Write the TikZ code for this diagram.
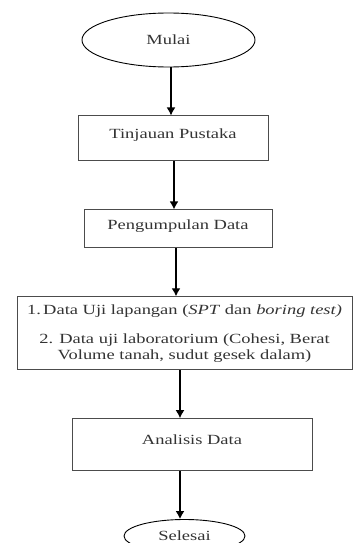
\documentclass[tikz,border=0pt]{standalone}
\usepackage{fontspec}
\setmainfont{Liberation Serif}[FakeStretch=1.32]
\usetikzlibrary{arrows.meta,positioning,shapes.geometric}

\begin{document}
\begin{tikzpicture}[node distance=48pt,>={Latex[length=8pt,width=9pt]},
  every node/.style={font=\fontsize{14pt}{16pt}\selectfont,text=black!80},
  frame/.style={draw=black!70,line width=0.9pt},
  stepbox/.style={frame,text depth=9pt},
  term/.style={draw,ellipse,line width=0.9pt,inner sep=0pt},
  flow/.style={->,line width=1.3pt}]
\useasboundingbox (0,0) rectangle (353pt,-543pt);
\node[term,minimum width=173pt,minimum height=54pt] (mulai) at (168.5pt,-40pt) {Mulai};
\node[stepbox,below=of mulai,xshift=4.5pt,minimum width=190pt,minimum height=45pt] (tinjauan) {Tinjauan Pustaka};
\node[stepbox,below=of tinjauan,xshift=5pt,minimum width=188pt,minimum height=38pt] (kumpul) {Pengumpulan Data};
\node[frame,below=of kumpul,xshift=6.5pt,minimum width=335pt,minimum height=73pt,align=center] (data)
  {1.\,Data Uji lapangan (\textit{SPT} dan \textit{boring test)}\\[13pt]
   2. Data uji laboratorium (Cohesi, Berat\\ Volume tanah, sudut gesek dalam)};
\node[stepbox,below=of data,xshift=7.5pt,minimum width=240pt,minimum height=52pt] (analisis) {Analisis Data};
\node[term,below=of analisis,xshift=-7.5pt,minimum width=121pt,minimum height=33pt] (selesai) {Selesai};
% connectors
\draw[flow] ([xshift=2.5pt]mulai.south) -- ([xshift=2.5pt]mulai.south |- tinjauan.north);
\draw[flow] ([xshift=1pt]tinjauan.south) -- ([xshift=1pt]tinjauan.south |- kumpul.north);
\draw[flow] ([xshift=-2pt]kumpul.south) -- ([xshift=-2pt]kumpul.south |- data.north);
\draw[flow] ([xshift=-4.5pt]data.south) -- ([xshift=-4.5pt]data.south |- analisis.north);
\draw[flow] ([xshift=-12pt]analisis.south) -- ([xshift=-12pt]analisis.south |- selesai.north);
\end{tikzpicture}
\end{document}
